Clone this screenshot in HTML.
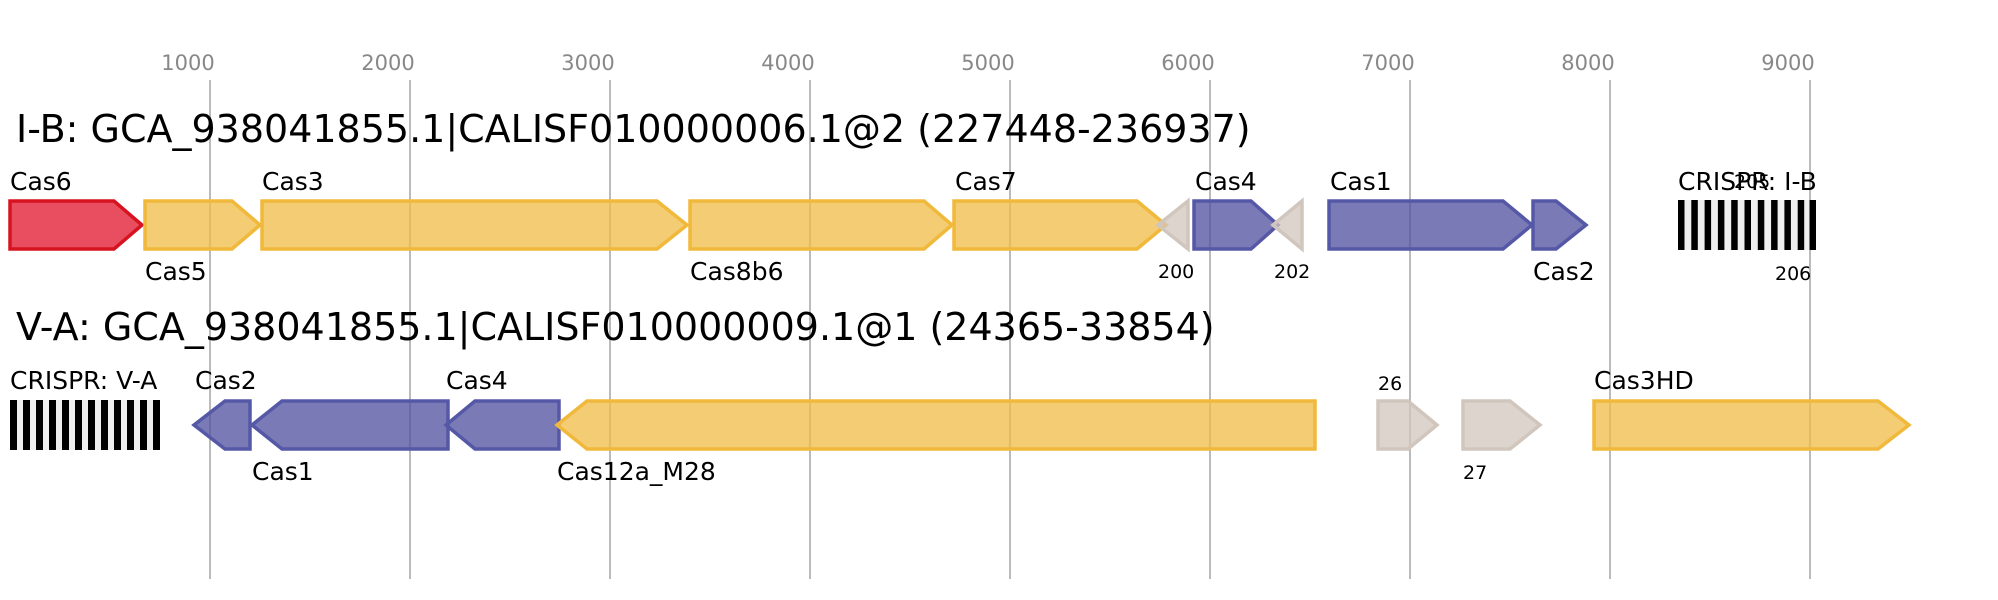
<!DOCTYPE html>
<html><head><meta charset="utf-8"><style>body{margin:0;background:#fff}svg{display:block}text{font-family:"DejaVu Sans","Liberation Sans",sans-serif}</style></head><body>
<svg width="1998" height="600" viewBox="0 0 1998 600" xmlns="http://www.w3.org/2000/svg">
<g stroke="#bbb" stroke-width="2">
<line x1="210" y1="80" x2="210" y2="579"/><line x1="410" y1="80" x2="410" y2="579"/><line x1="610" y1="80" x2="610" y2="579"/><line x1="810" y1="80" x2="810" y2="579"/><line x1="1010" y1="80" x2="1010" y2="579"/><line x1="1210" y1="80" x2="1210" y2="579"/><line x1="1410" y1="80" x2="1410" y2="579"/><line x1="1610" y1="80" x2="1610" y2="579"/><line x1="1810" y1="80" x2="1810" y2="579"/>
</g>
<g fill="#888" font-size="21" text-anchor="middle">
<text x="188" y="70">1000</text><text x="388" y="70">2000</text><text x="588" y="70">3000</text><text x="788" y="70">4000</text><text x="988" y="70">5000</text><text x="1188" y="70">6000</text><text x="1388" y="70">7000</text><text x="1588" y="70">8000</text><text x="1788" y="70">9000</text>
</g>
<text x="16" y="142" font-size="38" fill="#000">I-B: GCA_938041855.1|CALISF010000006.1@2 (227448-236937)</text>
<text x="16" y="340" font-size="38" fill="#000">V-A: GCA_938041855.1|CALISF010000009.1@1 (24365-33854)</text>
<g stroke-width="3.5" fill-opacity="0.75">
<polygon points="10,201 114,201 142,225 114,249 10,249" fill="#e0132a" stroke="#d6131f"/>
<polygon points="145,201 232,201 260,225 232,249 145,249" fill="#efbb44" stroke="#f0b93b"/>
<polygon points="262,201 657,201 687,225 657,249 262,249" fill="#efbb44" stroke="#f0b93b"/>
<polygon points="690,201 924,201 952,225 924,249 690,249" fill="#efbb44" stroke="#f0b93b"/>
<polygon points="954,201 1137,201 1166,225 1137,249 954,249" fill="#efbb44" stroke="#f0b93b"/>
<polygon points="1188,201 1188,249 1158,225" fill="#d2c6be" stroke="#d0c6bd"/>
<polygon points="1194,201 1251,201 1278,225 1251,249 1194,249" fill="#4d4f9e" stroke="#5558a6"/>
<polygon points="1302,201 1302,249 1273,225" fill="#d2c6be" stroke="#d0c6bd"/>
<polygon points="1329,201 1503,201 1532,225 1503,249 1329,249" fill="#4d4f9e" stroke="#5558a6"/>
<polygon points="1533,201 1556,201 1586,225 1556,249 1533,249" fill="#4d4f9e" stroke="#5558a6"/>
<polygon points="250,401 225,401 194,425 225,449 250,449" fill="#4d4f9e" stroke="#5558a6"/>
<polygon points="448,401 282,401 252,425 282,449 448,449" fill="#4d4f9e" stroke="#5558a6"/>
<polygon points="559,401 475,401 446,425 475,449 559,449" fill="#4d4f9e" stroke="#5558a6"/>
<polygon points="1315,401 587,401 557,425 587,449 1315,449" fill="#efbb44" stroke="#f0b93b"/>
<polygon points="1378,401 1408,401 1437,425 1408,449 1378,449" fill="#d2c6be" stroke="#d0c6bd"/>
<polygon points="1463,401 1510,401 1540,425 1510,449 1463,449" fill="#d2c6be" stroke="#d0c6bd"/>
<polygon points="1594,401 1878,401 1909,425 1878,449 1594,449" fill="#efbb44" stroke="#f0b93b"/>
</g>
<rect x="1678" y="200" width="138" height="50" fill="#efefef"/>
<g fill="#000">
<rect x="1678" y="200" width="6.5" height="50"/><rect x="1691.3" y="200" width="6.5" height="50"/><rect x="1704.6" y="200" width="6.5" height="50"/><rect x="1717.9" y="200" width="6.5" height="50"/><rect x="1731.2" y="200" width="6.5" height="50"/><rect x="1744.5" y="200" width="6.5" height="50"/><rect x="1757.8" y="200" width="6.5" height="50"/><rect x="1771.1" y="200" width="6.5" height="50"/><rect x="1784.4" y="200" width="6.5" height="50"/><rect x="1797.7" y="200" width="6.5" height="50"/><rect x="1809.5" y="200" width="6.5" height="50"/>
</g>
<rect x="10" y="400" width="150" height="50" fill="#efefef"/>
<g fill="#000">
<rect x="10" y="400" width="7" height="50"/><rect x="23" y="400" width="7" height="50"/><rect x="36" y="400" width="7" height="50"/><rect x="49" y="400" width="7" height="50"/><rect x="62" y="400" width="7" height="50"/><rect x="75" y="400" width="7" height="50"/><rect x="88" y="400" width="7" height="50"/><rect x="101" y="400" width="7" height="50"/><rect x="114" y="400" width="7" height="50"/><rect x="127" y="400" width="7" height="50"/><rect x="140" y="400" width="7" height="50"/><rect x="153" y="400" width="7" height="50"/>
</g>
<g font-size="25" fill="#000">
<text x="10" y="190">Cas6</text><text x="145" y="280">Cas5</text><text x="262" y="190">Cas3</text><text x="690" y="280">Cas8b6</text><text x="955" y="190">Cas7</text><text x="1195" y="190">Cas4</text><text x="1330" y="190">Cas1</text><text x="1533" y="280">Cas2</text><text x="1678" y="190">CRISPR: I-B</text>
<text x="10" y="389">CRISPR: V-A</text><text x="195" y="389">Cas2</text><text x="252" y="480">Cas1</text><text x="446" y="389">Cas4</text><text x="557" y="480">Cas12a_M28</text><text x="1594" y="389">Cas3HD</text>
</g>
<g font-size="19" fill="#000">
<text x="1158" y="278">200</text><text x="1274" y="278">202</text><text x="1734" y="188">205</text><text x="1775" y="280">206</text><text x="1378" y="390">26</text><text x="1463" y="479">27</text>
</g>
</svg>
</body></html>
